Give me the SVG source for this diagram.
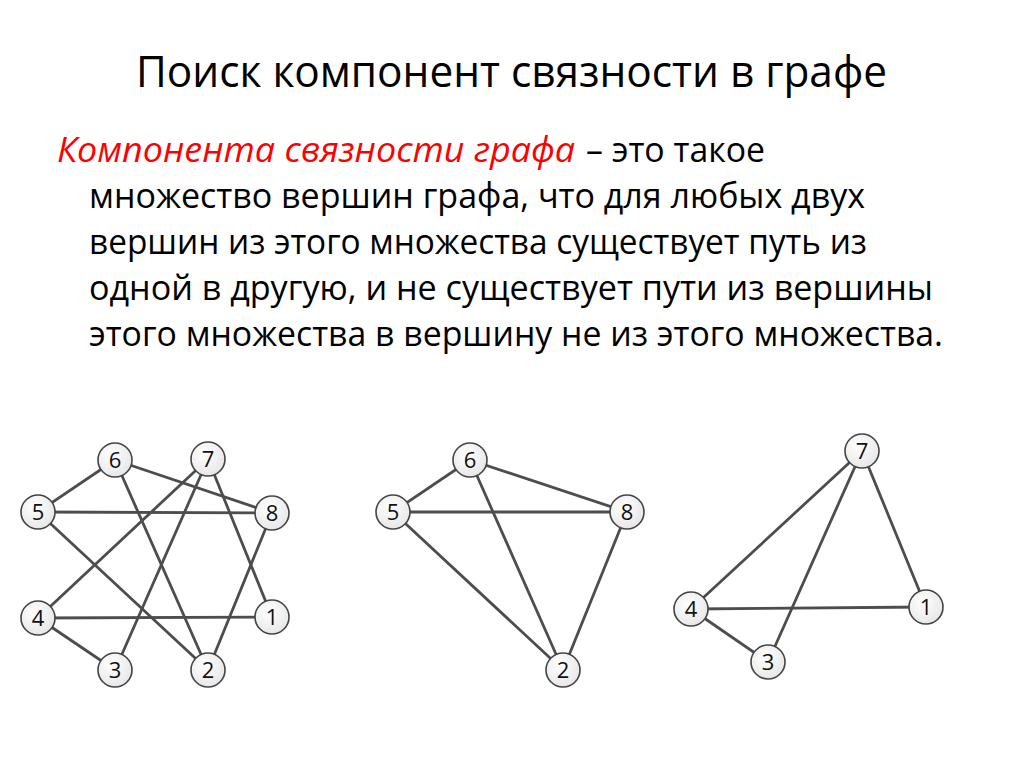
<svg xmlns="http://www.w3.org/2000/svg" width="1024" height="768" viewBox="0 0 1024 768">
<defs>
<radialGradient id="nodefill" cx="0.4" cy="0.35" r="0.7">
<stop offset="0" stop-color="#ffffff"/>
<stop offset="1" stop-color="#e6e6e6"/>
</radialGradient>
</defs>
<style>
.title{font-family:"Open Sans","Liberation Sans",sans-serif;font-size:44px;fill:#000}
.body{font-family:"Open Sans","Liberation Sans",sans-serif;font-size:34px;fill:#000}
.red{fill:#ff0000;font-style:italic}
.edge{stroke:#4d4d4d;stroke-width:2.8;fill:none;stroke-linecap:round}
.node circle{fill:url(#nodefill);stroke:#444;stroke-width:1.6}
.node text{font-family:"Open Sans","Liberation Sans",sans-serif;font-size:22px;fill:#111;text-anchor:middle}
</style>
<rect width="1024" height="768" fill="#ffffff"/>
<text class="title" x="136" y="87" textLength="751" lengthAdjust="spacingAndGlyphs">Поиск компонент связности в графе</text>
<text class="body red" x="57" y="162" textLength="518" lengthAdjust="spacingAndGlyphs">Компонента связности графа</text>
<text class="body" x="586" y="162" textLength="179" lengthAdjust="spacingAndGlyphs">– это такое</text>
<text class="body" x="89" y="208" textLength="776" lengthAdjust="spacingAndGlyphs">множество вершин графа, что для любых двух</text>
<text class="body" x="89" y="254" textLength="778" lengthAdjust="spacingAndGlyphs">вершин из этого множества существует путь из</text>
<text class="body" x="89" y="300" textLength="844" lengthAdjust="spacingAndGlyphs">одной в другую, и не существует пути из вершины</text>
<text class="body" x="89" y="346" textLength="854" lengthAdjust="spacingAndGlyphs">этого множества в вершину не из этого множества.</text>
<g id="connectors">
<line class="edge" x1="38" y1="512" x2="115" y2="460"/>
<line class="edge" x1="115" y1="460" x2="272" y2="513"/>
<line class="edge" x1="38" y1="512" x2="272" y2="513"/>
<line class="edge" x1="115" y1="460" x2="208" y2="670"/>
<line class="edge" x1="38" y1="512" x2="208" y2="670"/>
<line class="edge" x1="208" y1="459" x2="38" y2="618"/>
<line class="edge" x1="208" y1="459" x2="115" y2="670"/>
<line class="edge" x1="208" y1="459" x2="272" y2="617"/>
<line class="edge" x1="272" y1="513" x2="208" y2="670"/>
<line class="edge" x1="38" y1="618" x2="272" y2="617"/>
<line class="edge" x1="38" y1="618" x2="115" y2="670"/>
<line class="edge" x1="393" y1="512" x2="470" y2="460"/>
<line class="edge" x1="470" y1="460" x2="627" y2="512"/>
<line class="edge" x1="393" y1="512" x2="627" y2="512"/>
<line class="edge" x1="470" y1="460" x2="563" y2="670"/>
<line class="edge" x1="393" y1="512" x2="563" y2="670"/>
<line class="edge" x1="627" y1="512" x2="563" y2="670"/>
<line class="edge" x1="862" y1="451" x2="691" y2="609"/>
<line class="edge" x1="862" y1="451" x2="768" y2="662"/>
<line class="edge" x1="862" y1="451" x2="926" y2="607"/>
<line class="edge" x1="691" y1="609" x2="926" y2="607"/>
<line class="edge" x1="691" y1="609" x2="768" y2="662"/>
</g>
<g id="g1-n6" class="node"><circle cx="115" cy="460" r="17"/><text x="115" y="468">6</text></g>
<g id="g1-n7" class="node"><circle cx="208" cy="459" r="17"/><text x="208" y="467">7</text></g>
<g id="g1-n5" class="node"><circle cx="38" cy="512" r="17"/><text x="38" y="520">5</text></g>
<g id="g1-n8" class="node"><circle cx="272" cy="513" r="17"/><text x="272" y="521">8</text></g>
<g id="g1-n4" class="node"><circle cx="38" cy="618" r="17"/><text x="38" y="626">4</text></g>
<g id="g1-n1" class="node"><circle cx="272" cy="617" r="17"/><text x="272" y="625">1</text></g>
<g id="g1-n3" class="node"><circle cx="115" cy="670" r="17"/><text x="115" y="678">3</text></g>
<g id="g1-n2" class="node"><circle cx="208" cy="670" r="17"/><text x="208" y="678">2</text></g>
<g id="g2-n6" class="node"><circle cx="470" cy="460" r="17"/><text x="470" y="468">6</text></g>
<g id="g2-n5" class="node"><circle cx="393" cy="512" r="17"/><text x="393" y="520">5</text></g>
<g id="g2-n8" class="node"><circle cx="627" cy="512" r="17"/><text x="627" y="520">8</text></g>
<g id="g2-n2" class="node"><circle cx="563" cy="670" r="17"/><text x="563" y="678">2</text></g>
<g id="g3-n7" class="node"><circle cx="862" cy="451" r="17"/><text x="862" y="459">7</text></g>
<g id="g3-n4" class="node"><circle cx="691" cy="609" r="17"/><text x="691" y="617">4</text></g>
<g id="g3-n1" class="node"><circle cx="926" cy="607" r="17"/><text x="926" y="615">1</text></g>
<g id="g3-n3" class="node"><circle cx="768" cy="662" r="17"/><text x="768" y="670">3</text></g>
</svg>
